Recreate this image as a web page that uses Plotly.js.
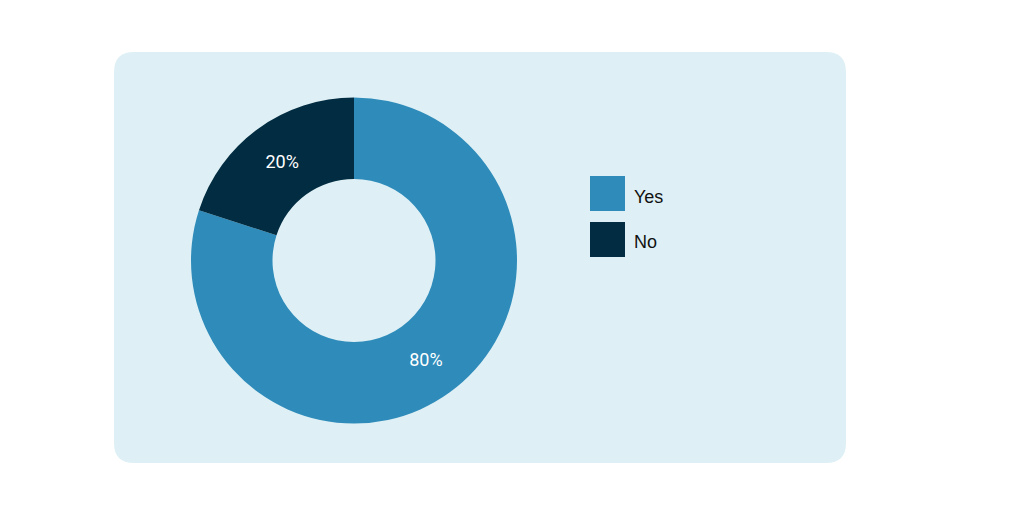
<!DOCTYPE html>
<html>
<head>
<meta charset="utf-8">
<script src="https://cdn.plot.ly/plotly-3.0.1.min.js"></script>
<style>html,body{margin:0;padding:0;background:#fff;}#chart{width:1024px;height:516px;}</style>
</head>
<body>
<div id="chart"></div>
<script>
const labels = ["Yes", "No"];
const values = [80, 20];
const colors = ["#2E8BBA", "#022C41"];

const W = 1024, H = 516;
function px(x){ return x / W; }
function py(y){ return 1 - y / H; }

// rounded background panel
const bx0 = 114, bx1 = 846, by0 = 52, by1 = 463, r = 20;
const path = [
  `M${px(bx0 + r)},${py(by0)}`,
  `L${px(bx1 - r)},${py(by0)}`,
  `Q${px(bx1)},${py(by0)} ${px(bx1)},${py(by0 + r)}`,
  `L${px(bx1)},${py(by1 - r)}`,
  `Q${px(bx1)},${py(by1)} ${px(bx1 - r)},${py(by1)}`,
  `L${px(bx0 + r)},${py(by1)}`,
  `Q${px(bx0)},${py(by1)} ${px(bx0)},${py(by1 - r)}`,
  `L${px(bx0)},${py(by0 + r)}`,
  `Q${px(bx0)},${py(by0)} ${px(bx0 + r)},${py(by0)}`,
  'Z'
].join(' ');

const shapes = [{
  type: 'path', xref: 'paper', yref: 'paper', path: path,
  fillcolor: '#DEF0F5', line: {width: 0}, layer: 'below'
}];
const annotations = [];

// custom legend (large square swatches)
const legX = 590, legY0 = 176, legStep = 46, sw = 35;
labels.forEach((lab, i) => {
  const y0 = legY0 + i * legStep;
  shapes.push({
    type: 'rect', xref: 'paper', yref: 'paper',
    x0: px(legX), x1: px(legX + sw), y0: py(y0), y1: py(y0 + sw),
    fillcolor: colors[i], line: {width: 0}
  });
  annotations.push({
    xref: 'paper', yref: 'paper', x: px(legX + sw + 7), y: py(y0 + sw / 2 + 3),
    xanchor: 'left', yanchor: 'middle', showarrow: false, text: lab,
    font: {family: 'Liberation Sans, Arial, sans-serif', size: 18, color: '#111111'}
  });
});

const trace = {
  type: 'pie',
  labels: labels,
  values: values,
  hole: 0.5,
  sort: false,
  direction: 'clockwise',
  rotation: 0,
  marker: {colors: colors, line: {width: 0}},
  textinfo: 'percent',
  textposition: 'inside',
  insidetextorientation: 'horizontal',
  textfont: {family: 'Roboto, sans-serif', size: 18, color: '#ffffff'},
  domain: {x: [px(191), px(517)], y: [py(424), py(97)]},
  showlegend: false,
  hoverinfo: 'label+percent'
};

const layout = {
  width: W, height: H,
  margin: {l: 0, r: 0, t: 0, b: 0},
  paper_bgcolor: '#ffffff',
  plot_bgcolor: 'rgba(0,0,0,0)',
  showlegend: false,
  shapes: shapes,
  annotations: annotations,
  font: {family: 'Roboto, sans-serif'}
};

Plotly.newPlot('chart', [trace], layout, {displayModeBar: false, staticPlot: true});
</script>
</body>
</html>
